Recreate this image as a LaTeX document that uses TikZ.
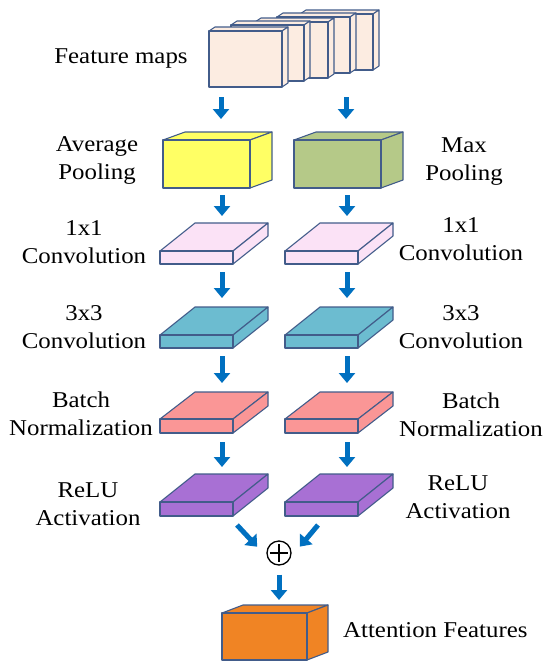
\documentclass[tikz,border=0pt]{standalone}
\usepackage{fontspec}
\setmainfont{Liberation Serif}[FakeStretch=1.1]
\usetikzlibrary{arrows.meta}

\definecolor{edge}{RGB}{66,92,138}
\definecolor{fmfill}{RGB}{252,236,225}
\definecolor{avgfill}{RGB}{255,255,100}
\definecolor{maxfill}{RGB}{181,201,136}
\definecolor{convA}{RGB}{251,226,246}
\definecolor{convB}{RGB}{108,188,208}
\definecolor{bnfill}{RGB}{250,150,150}
\definecolor{relufill}{RGB}{168,112,212}
\definecolor{outfill}{RGB}{240,132,36}
\definecolor{flow}{RGB}{0,112,192}

\tikzset{
  facet/.style={draw=edge, line width=1.1pt, line join=round},
  arr/.style={draw=flow, line width=5pt,
    -{Triangle[width=16pt,length=10pt]}},
  lbl/.style={inner sep=0pt, anchor=base,
    font=\fontsize{22.6}{28.5}\selectfont},
}

% cuboid: #1 left x, #2 top y of front face, #3 width, #4 height,
% #5 depth dx, #6 depth dy (upwards), #7 fill colour
\newcommand{\cuboid}[7]{%
  \filldraw[facet, fill=#7] (#1,#2) -- ++(#5,-#6) -- ++(#3,0) -- ++(-#5,#6) -- cycle;
  \filldraw[facet, fill=#7] (#1+#3,#2) -- ++(#5,-#6) -- ++(0,#4) -- ++(-#5,#6) -- cycle;
  \filldraw[facet, fill=#7] (#1,#2) rectangle ++(#3,#4);
}
% two-line centred label, first baseline at the anchor
\newcommand{\twolines}[2]{\begin{tabular}[t]{@{}c@{}}#1\\#2\end{tabular}}

\begin{document}
\begin{tikzpicture}[x=1pt,y=-1pt]
\useasboundingbox (0,0) rectangle (547,662);

% stack of feature maps, back to front
\cuboid{300}{14}{73}{56}{6}{4}{fmfill}
\cuboid{277}{17}{73}{56}{6}{4}{fmfill}
\cuboid{255}{22}{73}{56}{6}{4}{fmfill}
\cuboid{231}{25}{73}{56}{6}{4}{fmfill}
\cuboid{209}{31}{73}{56}{6}{4}{fmfill}
\coordinate (fmL-s) at (221,87);
\coordinate (fmR-s) at (346,87);

% pooling blocks
\cuboid{163}{140}{87}{48}{22}{8}{avgfill}
\cuboid{294}{140}{87}{48}{22}{8}{maxfill}
\coordinate (avg-n) at (221,132);  \coordinate (avg-s) at (222,188);
\coordinate (max-n) at (346,132);  \coordinate (max-s) at (347,188);

% 1x1 convolution
\cuboid{160}{251}{73}{13}{35}{28}{convA}
\cuboid{285}{251}{73}{13}{35}{28}{convA}
\coordinate (c1L-n) at (222,223);  \coordinate (c1L-s) at (222,264);
\coordinate (c1R-n) at (347,223);  \coordinate (c1R-s) at (347,264);

% 3x3 convolution
\cuboid{160}{335}{73}{13}{35}{28}{convB}
\cuboid{285}{335}{73}{13}{35}{28}{convB}
\coordinate (c3L-n) at (222,307);  \coordinate (c3L-s) at (222,348);
\coordinate (c3R-n) at (347,307);  \coordinate (c3R-s) at (347,348);

% batch normalization
\cuboid{160}{419}{73}{14}{35}{27}{bnfill}
\cuboid{285}{419}{73}{14}{35}{27}{bnfill}
\coordinate (bnL-n) at (222,392);  \coordinate (bnL-s) at (222,433);
\coordinate (bnR-n) at (347,392);  \coordinate (bnR-s) at (347,433);

% ReLU activation
\cuboid{160}{502}{73}{14}{35}{28}{relufill}
\cuboid{285}{502}{73}{14}{35}{28}{relufill}
\coordinate (rlL-n) at (222,474);
\coordinate (rlR-n) at (347,474);

% output block
\cuboid{222}{613}{85}{47}{21}{8}{outfill}
\coordinate (out-n) at (279,605);

% summation
\node[circle, draw=black, line width=1.3pt, minimum size=24pt, inner sep=0pt]
  (sum) at (279,553) {};
\draw[line width=1.3pt] ([yshift=-3.5pt]sum.north) -- ([yshift=3.5pt]sum.south);
\draw[line width=1.3pt] ([xshift=3.5pt]sum.west) -- ([xshift=-3.5pt]sum.east);

% data flow
\draw[arr, shorten <=10pt, shorten >=13pt] (fmL-s) -- (avg-n);
\draw[arr, shorten <=10pt, shorten >=13pt] (fmR-s) -- (max-n);
\draw[arr, shorten <=7pt, shorten >=7pt] (avg-s) -- (c1L-n);
\draw[arr, shorten <=7pt, shorten >=7pt] (max-s) -- (c1R-n);
\draw[arr, shorten <=8pt, shorten >=9pt] (c1L-s) -- (c3L-n);
\draw[arr, shorten <=8pt, shorten >=9pt] (c1R-s) -- (c3R-n);
\draw[arr, shorten <=8pt, shorten >=9pt] (c3L-s) -- (bnL-n);
\draw[arr, shorten <=8pt, shorten >=9pt] (c3R-s) -- (bnR-n);
\draw[arr, shorten <=9pt, shorten >=7pt] (bnL-s) -- (rlL-n);
\draw[arr, shorten <=9pt, shorten >=7pt] (bnR-s) -- (rlR-n);
\coordinate (inL) at (237,525);
\coordinate (inR) at (318,525);
\draw[arr, shorten >=14.5pt] (inL) -- (sum.200);
\draw[arr, shorten >=14pt] (inR) -- (sum.340);
\draw[arr, shorten <=9pt, shorten >=5pt] (sum.south) -- (out-n);

% labels
\node[lbl] (t-fm) at (121,63) {Feature maps};
\node[lbl] (t-avg) at (97,151) {\twolines{Average}{Pooling}};
\node[lbl] (t-max) at (464,152) {\twolines{Max}{Pooling}};
\node[lbl] (t-c1L) at (84,235) {\twolines{1x1}{Convolution}};
\node[lbl] (t-c1R) at (461,232) {\twolines{1x1}{Convolution}};
\node[lbl] (t-c3L) at (84,320) {\twolines{3x3}{Convolution}};
\node[lbl] (t-c3R) at (461,320) {\twolines{3x3}{Convolution}};
\node[lbl] (t-bnL) at (81,407) {\twolines{Batch}{Normalization}};
\node[lbl] (t-bnR) at (471,408) {\twolines{Batch}{Normalization}};
\node[lbl] (t-rlL) at (88,497) {\twolines{ReLU}{Activation}};
\node[lbl] (t-rlR) at (458,490) {\twolines{ReLU}{Activation}};
\node[lbl, anchor=base west] (t-out) at (343,637) {Attention Features};
\end{tikzpicture}
\end{document}
